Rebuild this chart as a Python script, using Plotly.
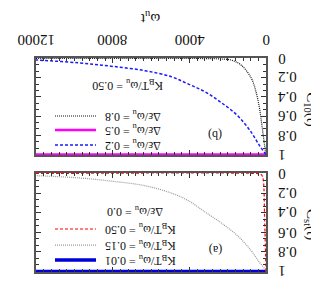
import plotly.graph_objects as go

# ---------------- data ----------------
# panel (b): C_10(t), K_B T/w_u = 0.50
t_b_08 = [0, 20, 70, 210, 330, 505, 765, 1290, 1810, 2500, 4000, 12000]
c_b_08 = [1.0, 0.98, 0.91, 0.70, 0.53, 0.36, 0.206, 0.07, 0.017, 0.004, 0.0, 0.0]
t_b_05 = [0, 12000]
c_b_05 = [1.0, 1.0]
t_b_02 = [0, 330, 765, 1460, 2330, 3200, 4070, 4940, 6330, 8090, 9810, 11900, 12000]
c_b_02 = [1.0, 0.91, 0.77, 0.60, 0.46, 0.345, 0.265, 0.19, 0.127, 0.08, 0.045, 0.017, 0.016]

# panel (a): C_st(t), delta eps / w_u = 0.0
t_a_001 = [0, 12000]
c_a_001 = [1.0, 1.0]
t_a_015 = [0, 35, 330, 765, 1460, 2330, 3200, 4070, 4940, 6330, 8070, 9810, 11900, 12000]
c_a_015 = [1.0, 0.98, 0.91, 0.79, 0.64, 0.505, 0.39, 0.275, 0.20, 0.124, 0.078, 0.044, 0.023, 0.022]
t_a_050 = [0, 20, 70, 140, 210, 300, 500, 12000]
c_a_050 = [1.0, 0.85, 0.48, 0.07, 0.02, 0.005, 0.0, 0.0]

x_ticks = [0, 4000, 8000, 12000]
x_ticklabels = ["0", "4000", "8000", "12000"]
y_ticks = [0, 0.2, 0.4, 0.6, 0.8, 1]
y_ticklabels = ["0", "0.2", "0.4", "0.6", "0.8", "1"]

FONT = "Liberation Serif"
INK = "#111111"

fig = go.Figure()

# panel (b) traces -> x2/y2
fig.add_trace(go.Scatter(x=t_b_08, y=c_b_08, mode="lines", xaxis="x2", yaxis="y2",
                         line=dict(color="#111111", width=1.2, dash="1px,1px", shape="spline")))
fig.add_trace(go.Scatter(x=t_b_05, y=c_b_05, mode="lines", xaxis="x2", yaxis="y2",
                         line=dict(color="#ff00ff", width=2.5)))
fig.add_trace(go.Scatter(x=t_b_02, y=c_b_02, mode="lines", xaxis="x2", yaxis="y2",
                         line=dict(color="#1a1aff", width=1.5, dash="3px,2px", shape="spline")))

# panel (a) traces -> x/y
fig.add_trace(go.Scatter(x=t_a_001, y=c_a_001, mode="lines", xaxis="x", yaxis="y",
                         line=dict(color="#0000dd", width=3.5)))
fig.add_trace(go.Scatter(x=t_a_015, y=c_a_015, mode="lines", xaxis="x", yaxis="y",
                         line=dict(color="#999999", width=1.2, dash="1px,1px", shape="spline")))
fig.add_trace(go.Scatter(x=t_a_050, y=c_a_050, mode="lines", xaxis="x", yaxis="y",
                         line=dict(color="#ff0000", width=1.2, dash="3px,2px", shape="spline")))

axis_common = dict(
    showgrid=False, zeroline=False, showline=True, linecolor="#555555", linewidth=1.5,
    mirror="ticks", ticks="inside", ticklen=5, tickcolor="#333333", showticklabels=False,
)

x_common = dict(axis_common, range=[12000, 0], tickvals=x_ticks,
                minor=dict(dtick=400, ticks="inside", ticklen=3, tickcolor="#333333"))
y_common = dict(axis_common, range=[1.005, -0.005], side="right", tickvals=y_ticks,
                minor=dict(dtick=0.2 / 3, ticks="inside", ticklen=3, tickcolor="#333333"))

fig.update_layout(
    width=319, height=299,
    margin=dict(l=28, r=61, t=50, b=35),
    paper_bgcolor="white", plot_bgcolor="white",
    showlegend=False,
    xaxis=dict(x_common, anchor="y"),
    yaxis=dict(y_common, domain=[0, 0.4626], anchor="x"),
    xaxis2=dict(x_common, anchor="y2", side="top", matches="x"),
    yaxis2=dict(y_common, domain=[0.547, 1], anchor="x2"),
)

def txt(x, y, s, size=12, xanchor="left", angle=180, xref="paper", yref="paper"):
    fig.add_annotation(x=x, y=y, xref=xref, yref=yref, text=s, showarrow=False,
                       textangle=angle, xanchor=xanchor, yanchor="middle",
                       font=dict(family=FONT, size=size, color=INK))

# tick labels (upside-down, as in the reference)
for v, s in zip(x_ticks, x_ticklabels):
    txt(v, 1.084, s, size=15, xanchor="center", xref="x2")
for v, s in zip(y_ticks, y_ticklabels):
    txt(1.043, v, s, size=15, xanchor="left", yref="y2")
    txt(1.043, v, s, size=15, xanchor="left", yref="y")

# axis titles
txt(0.496, 1.187, "ω<sub>u</sub>t", size=15, xanchor="center")
txt(1.195, 0.757, "C<sub>10</sub>(t)", size=15, xanchor="center", angle=90)
txt(1.195, 0.22, "C<sub>st</sub>(t)", size=15, xanchor="center", angle=90)

# panel labels
txt(0.778, 0.640, "(b)", size=12, xanchor="center")
txt(0.783, 0.103, "(a)", size=12, xanchor="center")

# panel (b) legend
txt(0.235, 0.874, "K<sub>B</sub>T/ω<sub>u</sub> = 0.50")
leg_b = [(0.729, "Δε/ω<sub>u</sub> = 0.8", "#111111", 1.2, "1px,1px"),
         (0.6636, "Δε/ω<sub>u</sub> = 0.5", "#ff00ff", 2.5, "solid"),
         (0.5935, "Δε/ω<sub>u</sub> = 0.2", "#1a1aff", 1.5, "3px,2px")]
# panel (a) legend
txt(0.300, 0.285, "Δε/ω<sub>u</sub> = 0.0")
leg_a = [(0.201, "K<sub>B</sub>T/ω<sub>u</sub> = 0.50", "#ff0000", 1.2, "3px,2px"),
         (0.126, "K<sub>B</sub>T/ω<sub>u</sub> = 0.15", "#999999", 1.2, "1px,1px"),
         (0.056, "K<sub>B</sub>T/ω<sub>u</sub> = 0.01", "#0000dd", 3.5, "solid")]
for (yy, s, col, w, d) in leg_b + leg_a:
    fig.add_shape(type="line", xref="paper", yref="paper", x0=0.0826, x1=0.261, y0=yy, y1=yy,
                  line=dict(color=col, width=w, dash=d))
    txt(0.291, yy, s)

fig.write_html("out.html")
